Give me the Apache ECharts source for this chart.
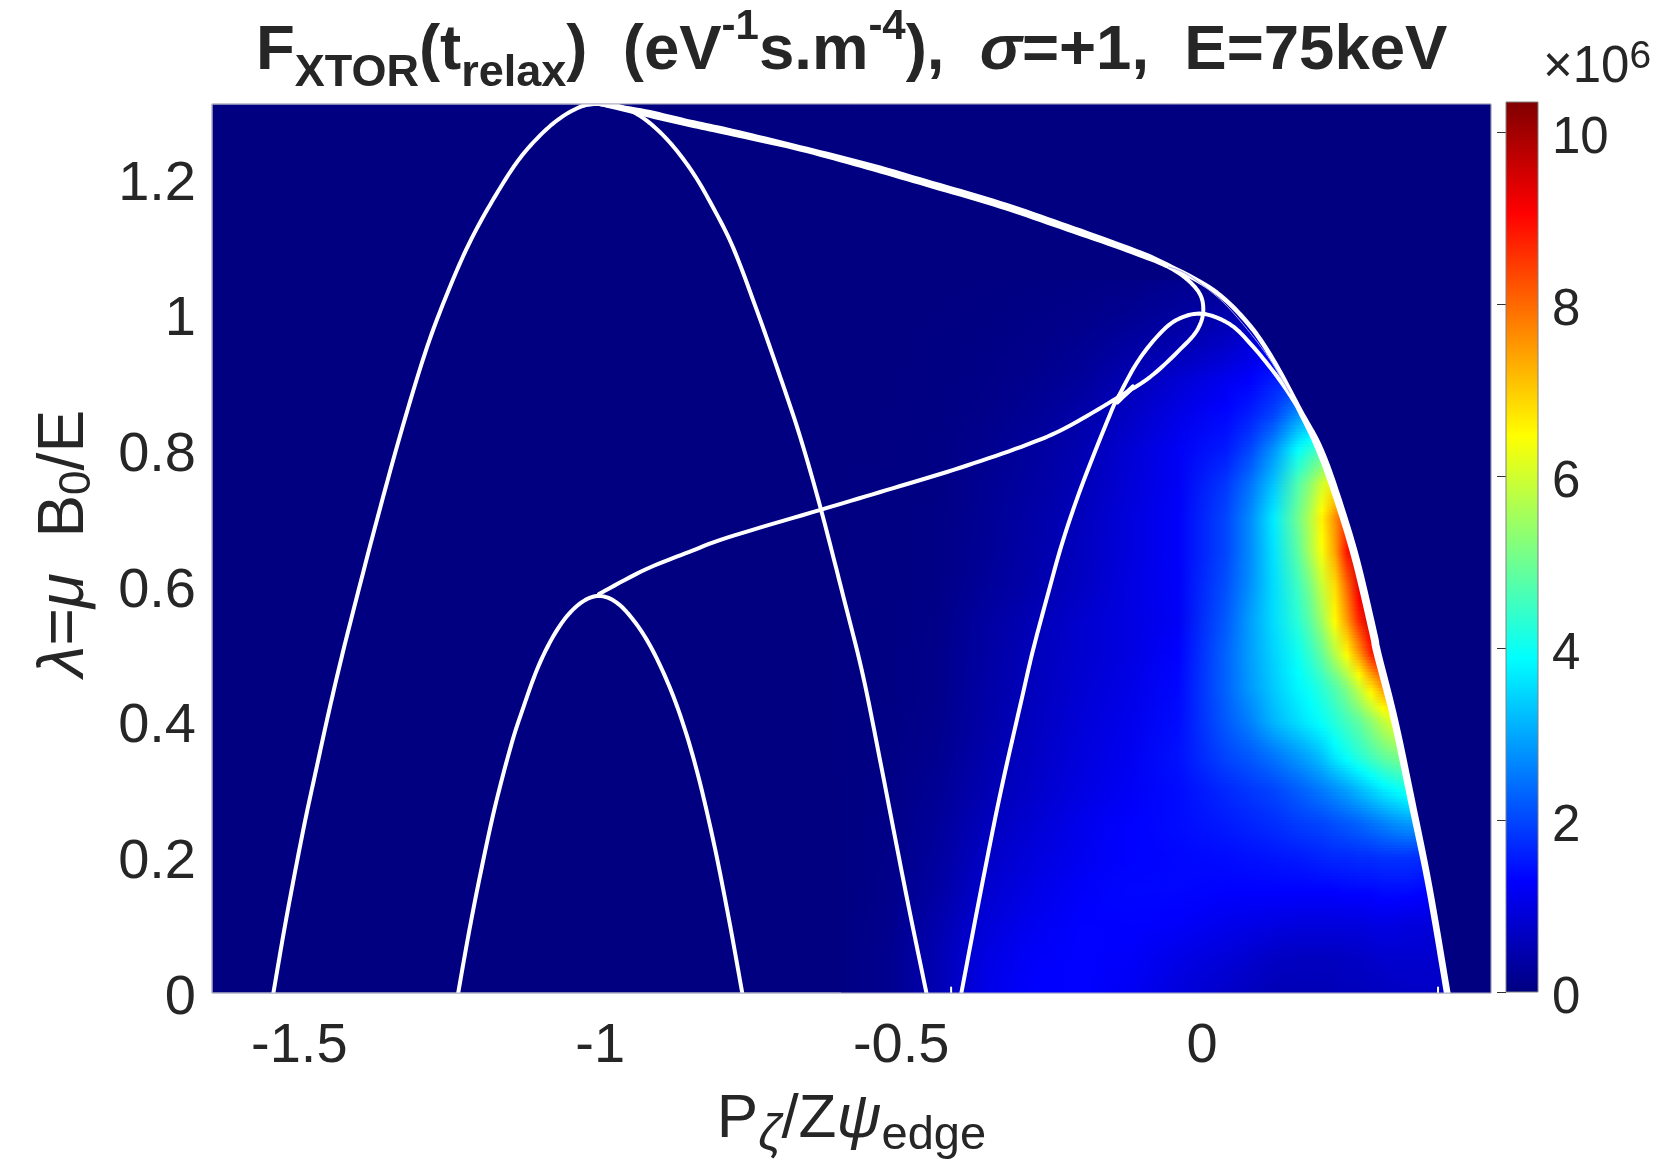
<!DOCTYPE html>
<html>
<head>
<meta charset="utf-8">
<title>F_XTOR</title>
<script src="https://cdn.jsdelivr.net/npm/echarts@6/dist/echarts.min.js"></script>
<style>
  html, body { margin: 0; padding: 0; background: #fff; }
  #chart { width: 1661px; height: 1161px; }
</style>
</head>
<body>
<div id="chart"></div>
<script>
// tick labels
const xTicks = [-1.5, -1, -0.5, 0];
const yTicks = [0, 0.2, 0.4, 0.6, 0.8, 1, 1.2];
const cbTicks = [0, 2, 4, 6, 8, 10];

// distribution, in units of 1e6
const fieldX = [-0.6, -0.52, -0.44, -0.36, -0.28, -0.2, -0.12, -0.04, 0.04, 0.08, 0.12, 0.16, 0.18, 0.2, 0.22, 0.24, 0.26, 0.28, 0.3, 0.32, 0.34, 0.36, 0.38, 0.4, 0.42];
const fieldY = [0, 0.05, 0.1, 0.15, 0.2, 0.25, 0.3, 0.35, 0.4, 0.45, 0.5, 0.55, 0.6, 0.65, 0.7, 0.75, 0.8, 0.85, 0.9, 0.95, 1, 1.05];
const fieldRows = [
    [.03,.15,.5,1.05,1.3,1.3,1.2,.95,.75,.65,.55,.55,.55,.55,.58,.6,.6,.62,.65,.68,.7,.7,.7,.7,.7],
    [.03,.15,.5,1,1.25,1.3,1.25,1.05,.9,.8,.7,.65,.65,.65,.65,.68,.7,.75,.8,.8,.8,.8,.8,.8,.8],
    [.03,.12,.45,.9,1.15,1.3,1.3,1.25,1.1,1.05,1,.95,.95,.95,.95,.95,.95,1,1,1,.95,.95,.9,.9,.9],
    [.02,.1,.35,.8,1.05,1.25,1.35,1.35,1.3,1.3,1.3,1.3,1.3,1.3,1.3,1.35,1.35,1.35,1.4,1.4,1.4,1.35,1.3,1.3,1.3],
    [.02,.08,.3,.7,.95,1.15,1.3,1.35,1.4,1.45,1.5,1.55,1.6,1.65,1.7,1.7,1.75,1.75,1.8,1.8,1.8,1.75,1.7,1.7,1.7],
    [.02,.07,.25,.6,.85,1.1,1.3,1.4,1.55,1.65,1.75,1.9,1.95,2,2.1,2.2,2.3,2.45,2.6,2.75,2.85,2.9,2.9,2.9,2.9],
    [.02,.06,.2,.5,.75,1,1.2,1.4,1.7,1.85,2,2.25,2.4,2.55,2.75,2.95,3.2,3.45,3.7,3.9,4.1,4.2,4.2,4.2,4.2],
    [.01,.05,.15,.45,.7,.95,1.15,1.45,2,2.2,2.5,2.85,3.05,3.3,3.7,4,4.3,4.6,4.9,5.1,5.2,5.2,5.2,5.2,5.2],
    [.01,.04,.12,.4,.65,.9,1.1,1.4,2.2,2.6,3.15,3.55,3.75,3.95,4.25,4.55,4.85,5.3,5.8,6.2,6.4,6.4,6.4,6.4,6.4],
    [.01,.03,.1,.38,.62,.85,1.05,1.35,2.3,2.85,3.35,3.8,4,4.3,4.7,5.2,5.9,6.7,7.5,8,8,8,8,8,8],
    [.01,.03,.1,.35,.6,.8,1,1.3,2.3,2.9,3.45,4,4.4,4.9,5.7,6.5,7.5,8.7,9.5,9.5,9.5,9.5,9.5,9.5,9.5],
    [.01,.03,.08,.33,.55,.8,1,1.2,2.2,2.9,3.55,4.3,4.8,5.5,6.5,7.5,8.7,9.6,9.8,9.8,9.8,9.8,9.8,9.8,9.8],
    [.01,.02,.06,.25,.45,.68,1,1.25,2.1,2.75,3.55,4.5,5.1,5.9,6.8,8,9.3,9.8,9.8,9.8,9.8,9.8,9.8,9.8,9.8],
    [.01,.02,.05,.22,.42,.65,.95,1.25,2,2.7,3.6,4.8,5.6,6.4,7.4,8.9,9.6,9.6,9.6,9.6,9.6,9.6,9.6,9.6,9.6],
    [.01,.02,.05,.2,.4,.62,.95,1.25,2,2.7,3.7,5,5.7,6.6,7.6,8.5,8.5,8.5,8.5,8.5,8.5,8.5,8.5,8.5,8.5],
    [.01,.02,.04,.18,.35,.55,.9,1.2,1.85,2.45,3.3,4.7,5.3,6,6.6,6.8,6.8,6.8,6.8,6.8,6.8,6.8,6.8,6.8,6.8],
    [.01,.01,.04,.15,.3,.5,.85,1.2,1.55,2,2.8,3.9,4.3,4.6,4.7,4.7,4.7,4.7,4.7,4.7,4.7,4.7,4.7,4.7,4.7],
    [0,.01,.03,.1,.22,.42,.7,1.05,1.35,1.6,2,2.8,3,3,3,3,3,3,3,3,3,3,3,3,3],
    [0,.01,.02,.07,.15,.28,.55,.85,1.15,1.3,1.6,1.8,1.8,1.8,1.8,1.8,1.8,1.8,1.8,1.8,1.8,1.8,1.8,1.8,1.8],
    [0,0,.02,.05,.1,.18,.35,.5,.75,.95,1.1,1.1,1.1,1.1,1.1,1.1,1.1,1.1,1.1,1.1,1.1,1.1,1.1,1.1,1.1],
    [0,0,.01,.03,.06,.1,.18,.3,.45,.5,.5,.5,.5,.5,.5,.5,.5,.5,.5,.5,.5,.5,.5,.5,.5],
    [0,0,0,.01,.03,.05,.08,.15,.15,.15,.15,.15,.15,.15,.15,.15,.15,.15,.15,.15,.15,.15,.15,.15,.15]
];

// white curves, [P/Zpsi, lambda]
const bigParabola = [[-1.543,0],[-1.525,.093],[-1.508,.174],[-1.49,.255],[-1.472,.329],[-1.452,.41],[-1.432,.486],[-1.412,.557],[-1.374,.687],[-1.332,.823],[-1.291,.943],[-1.257,1.0245],[-1.218,1.104],[-1.174,1.175],[-1.13,1.234],[-1.08,1.28],[-1.035,1.305],[-1,1.31],[-.963,1.305],[-.925,1.287],[-.885,1.254],[-.847,1.21],[-.814,1.16],[-.779,1.098],[-.739,1.004],[-.701,.908],[-.668,.82],[-.634,.715],[-.596,.584],[-.563,.466],[-.532,.329],[-.492,.147],[-.458,0]];
const smallParabola = [[-1.236,0],[-1.219,.085],[-1.201,.167],[-1.176,.27],[-1.149,.362],[-1.13,.415],[-1.101,.485],[-1.068,.54],[-1.035,.573],[-1.002,.585],[-.968,.572],[-.93,.531],[-.897,.476],[-.867,.409],[-.839,.326],[-.811,.22],[-.786,.108],[-.764,0]];
const loopCurve = [[-1.002,.588],[-.925,.624],[-.852,.65],[-.789,.671],[-.634,.712],[-.513,.744],[-.402,.774],[-.291,.808],[-.224,.834],[-.141,.877],[-.086,.908],[-.037,.948],[-.008,.977],[.002,1.007],[-.008,1.036],[-.048,1.066],[-.115,1.091],[-.224,1.125],[-.336,1.159],[-.447,1.188],[-.556,1.216],[-.668,1.243],[-.779,1.265],[-.852,1.279],[-.925,1.294],[-1,1.31]];
const outerCurve = [[-1,1.31],[-.925,1.299],[-.852,1.284],[-.779,1.27],[-.668,1.246],[-.556,1.221],[-.447,1.193],[-.336,1.164],[-.224,1.13],[-.115,1.095],[-.065,1.076],[.018,1.036],[.075,.988],[.118,.933],[.163,.859],[.196,.805],[.223,.741],[.257,.643],[.287,.531],[.294,.501],[.322,.402],[.35,.284],[.379,.156],[.409,0]];
const innerCurve = [[-.4,0],[-.364,.167],[-.334,.299],[-.299,.436],[-.281,.505],[-.257,.585],[-.231,.667],[-.198,.752],[-.15,.859],[-.136,.884],[-.108,.929],[-.075,.967],[-.042,.992],[0,1.001],[.047,.985],[.085,.952],[.125,.908],[.151,.874],[.163,.855],[.19,.805],[.217,.741],[.251,.643],[.281,.531],[.288,.501],[.317,.402],[.345,.284],[.375,.156],[.405,0]];
const stubCurve = [[-.141,.871],[-.115,.893]];
const thinCurve = [[-.056,1.07],[-.025,1.059],[.03,1.022],[.075,.978],[.113,.933],[.146,.884]];
const footMarkA = [[-.417,0],[-.417,.008]];
const footMarkB = [[.392,0],[.392,.008]];

const xMin = -1.645, xMax = 0.48, yMax = 1.31, cbMax = 10.35;
const navy = '#000080';
const jetStops = [[0, 0, 0, 128], [.125, 0, 0, 255], [.375, 0, 255, 255], [.625, 255, 255, 0], [.875, 255, 0, 0], [1, 128, 0, 0]];

function jet(v) {
    let t = Math.min(1, Math.max(0, v / cbMax));
    for (let i = 1; i < jetStops.length; i++) {
        if (t <= jetStops[i][0]) {
            let a = jetStops[i - 1], b = jetStops[i];
            let f = (t - a[0]) / (b[0] - a[0]);
            let c = [1, 2, 3].map(k => Math.round(a[k] + (b[k] - a[k]) * f));
            return 'rgb(' + c.join(',') + ')';
        }
    }
    return 'rgb(128,0,0)';
}

// catmull-rom through the read points, only for the look of the stroke
function spline(pts) {
    let out = [];
    let last = pts.length - 1;
    for (let i = 0; i < last; i++) {
        let p0 = pts[Math.max(i - 1, 0)], p1 = pts[i], p2 = pts[i + 1], p3 = pts[Math.min(i + 2, last)];
        for (let k = 0; k < 10; k++) {
            let t = k / 10;
            out.push([0, 1].map(d => 0.5 * (2 * p1[d] + (p2[d] - p0[d]) * t
                + (2 * p0[d] - 5 * p1[d] + 4 * p2[d] - p3[d]) * t * t
                + (3 * p1[d] - p0[d] - 3 * p2[d] + p3[d]) * t * t * t)));
        }
    }
    out.push(pts[last]);
    return out;
}

// one item per cell: x0, x1, y0, y1, then the four corner values
const cells = [];
for (let j = 0; j < fieldY.length - 1; j++) {
    for (let i = 0; i < fieldX.length - 1; i++) {
        cells.push([fieldX[i], fieldX[i + 1], fieldY[j], fieldY[j + 1],
            fieldRows[j][i], fieldRows[j][i + 1], fieldRows[j + 1][i], fieldRows[j + 1][i + 1]]);
    }
}

// shading like matlab's interp: thin strips with a left to right gradient
function renderCell(params, api) {
    let a = api.coord([api.value(0), api.value(2)]);
    let b = api.coord([api.value(1), api.value(3)]);
    let x0 = Math.round(a[0]), x1 = Math.round(b[0]);
    let yBottom = a[1], yTop = b[1];
    let n = Math.max(1, Math.round((yBottom - yTop) / 3));
    let children = [];
    for (let k = 0; k < n; k++) {
        let f = (k + 0.5) / n;
        let left = api.value(4) + (api.value(6) - api.value(4)) * f;
        let right = api.value(5) + (api.value(7) - api.value(5)) * f;
        let top = Math.round(yBottom + (yTop - yBottom) * (k + 1) / n);
        let bottom = Math.round(yBottom + (yTop - yBottom) * k / n);
        children.push({
            type: 'rect',
            shape: { x: x0, y: top, width: x1 - x0, height: bottom - top },
            style: {
                fill: { type: 'linear', x: 0, y: 0, x2: 1, y2: 0, colorStops: [
                    { offset: 0, color: jet(left) }, { offset: 1, color: jet(right) }
                ] }
            }
        });
    }
    return { type: 'group', children: children };
}

// everything right of the outer curve is empty phase space
function renderMask(params, api) {
    let pts = spline(outerCurve).map(p => api.coord(p));
    pts.push(api.coord([xMax, 0]), api.coord([xMax, yMax]));
    return { type: 'polygon', shape: { points: pts }, style: { fill: navy } };
}

function renderFrame(params, api) {
    let a = api.coord([xMin, 0]);
    let b = api.coord([xMax, yMax]);
    return {
        type: 'rect',
        shape: { x: a[0], y: b[1], width: b[0] - a[0], height: a[1] - b[1] },
        style: { fill: null, stroke: '#b0b0c4', lineWidth: 1 }
    };
}

function renderColorbar(params, api) {
    let a = api.coord([0, 0]);
    let b = api.coord([1, cbMax]);
    return {
        type: 'rect',
        shape: { x: a[0], y: b[1], width: b[0] - a[0], height: a[1] - b[1] },
        style: {
            stroke: '#808080',
            lineWidth: 1,
            fill: { type: 'linear', x: 0, y: 1, x2: 0, y2: 0,
                colorStops: jetStops.map(s => ({ offset: s[0], color: 'rgb(' + s[1] + ',' + s[2] + ',' + s[3] + ')' })) }
        }
    };
}

function curve(data, width, color) {
    let sampled = spline(data);
    return {
        type: 'custom',
        xAxisIndex: 0,
        yAxisIndex: 0,
        data: [[0, 0]],
        silent: true,
        clip: true,
        z: 5,
        renderItem: (params, api) => ({
            type: 'polyline',
            shape: { points: sampled.map(p => api.coord(p)) },
            style: { fill: null, stroke: color || '#fff', lineWidth: width, lineJoin: 'round', lineCap: 'round' }
        })
    };
}

const textColor = '#262626';
const sans = '"Liberation Sans"';
const titleBold = { fontFamily: sans, fontWeight: 'bold', color: textColor };

const chart = echarts.init(document.getElementById('chart'));
chart.setOption({
    animation: false,
    backgroundColor: '#fff',
    title: {
        left: 251,
        top: 1,
        text: 'F{sub|XTOR}({m|t}{sub|relax}{m|)  (eV}{sup|-1}{m|s.m}{sup|-4}{m|),  }{it|σ}{m|=+1,  E=75keV}',
        textStyle: {
            fontFamily: sans, fontWeight: 'bold', fontSize: 63.5, color: textColor, lineHeight: 90,
            rich: {
                m: Object.assign({ fontSize: 63.5, lineHeight: 90 }, titleBold),
                it: Object.assign({ fontSize: 63.5, lineHeight: 90, fontStyle: 'italic' }, titleBold),
                sub: Object.assign({ fontSize: 45, lineHeight: 52, verticalAlign: 'bottom' }, titleBold),
                sup: Object.assign({ fontSize: 42, lineHeight: 50, verticalAlign: 'top' }, titleBold)
            }
        }
    },
    grid: [
        { left: 212, top: 104, width: 1279, height: 889, show: true, backgroundColor: navy, borderColor: '#b0b0c4', borderWidth: 1, outerBoundsMode: 'none' },
        { left: 1506, top: 102, width: 32, height: 890, outerBoundsMode: 'none' }
    ],
    xAxis: [
        {
            type: 'value', gridIndex: 0, min: xMin, max: xMax,
            axisLine: { show: false }, axisTick: { show: false }, splitLine: { show: false },
            axisLabel: { customValues: xTicks, fontFamily: sans, fontSize: 56, color: textColor, margin: 26 },
            name: 'P{it|ζ}/Z{psi|ψ}{sub|edge}',
            nameLocation: 'middle',
            nameGap: 85,
            nameTextStyle: {
                fontFamily: sans, fontSize: 62, color: textColor, lineHeight: 80,
                rich: {
                    it: { fontFamily: sans, fontSize: 50, fontStyle: 'italic', color: textColor, lineHeight: 50, verticalAlign: 'bottom' },
                    psi: { fontFamily: sans, fontSize: 62, fontStyle: 'italic', color: textColor, lineHeight: 80 },
                    sub: { fontFamily: sans, fontSize: 47, color: textColor, lineHeight: 50, verticalAlign: 'bottom' }
                }
            }
        },
        { type: 'value', gridIndex: 1, min: 0, max: 1, show: false }
    ],
    yAxis: [
        {
            type: 'value', gridIndex: 0, min: 0, max: yMax,
            axisLine: { show: false }, axisTick: { show: false }, splitLine: { show: false },
            axisLabel: { customValues: yTicks, fontFamily: sans, fontSize: 56, color: textColor, margin: 16, verticalAlign: 'top', lineHeight: 11 },
            name: '{it|λ}={it|μ}  B{sub|0}/E',
            nameLocation: 'middle',
            nameGap: 112,
            nameTextStyle: {
                fontFamily: sans, fontSize: 64, color: textColor, lineHeight: 70, padding: [0, 0, 0, 10],
                rich: {
                    it: { fontFamily: sans, fontSize: 64, fontStyle: 'italic', color: textColor, lineHeight: 70 },
                    sub: { fontFamily: sans, fontSize: 44, color: textColor, lineHeight: 44, verticalAlign: 'bottom' }
                }
            }
        },
        {
            type: 'value', gridIndex: 1, position: 'right', min: 0, max: cbMax,
            axisLine: { show: false },
            axisTick: { show: true, inside: true, length: 9, customValues: cbTicks, lineStyle: { color: '#333', width: 1 } },
            splitLine: { show: false },
            axisLabel: { customValues: cbTicks, fontFamily: sans, fontSize: 51, color: textColor, margin: 14, verticalAlign: 'top', lineHeight: 13 },
            name: '×10{sup|6}',
            nameLocation: 'end',
            nameGap: 4,
            nameTextStyle: {
                fontFamily: sans, fontSize: 51, color: textColor, align: 'center', lineHeight: 60, padding: [0, 0, 0, 182],
                rich: { sup: { fontFamily: sans, fontSize: 39, color: textColor, lineHeight: 40, verticalAlign: 'top' } }
            }
        }
    ],
    series: [
        { type: 'custom', xAxisIndex: 0, yAxisIndex: 0, data: cells, renderItem: renderCell, silent: true, clip: true, z: 1 },
        { type: 'custom', xAxisIndex: 0, yAxisIndex: 0, data: [[0, 0]], renderItem: renderMask, silent: true, clip: true, z: 2 },
        curve(bigParabola, 4),
        curve(smallParabola, 4),
        curve(loopCurve, 4),
        curve(outerCurve, 4.6),
        curve(innerCurve, 4),
        curve(stubCurve, 5),
        curve(thinCurve, 1, '#a8a8f0'),
        curve(footMarkA, 2),
        curve(footMarkB, 2),
        { type: 'custom', xAxisIndex: 0, yAxisIndex: 0, data: [[0, 0]], renderItem: renderFrame, silent: true, clip: false, z: 6 },
        { type: 'custom', xAxisIndex: 1, yAxisIndex: 1, data: [[0, 0]], renderItem: renderColorbar, silent: true, z: 1 }
    ]
});
</script>
</body>
</html>
